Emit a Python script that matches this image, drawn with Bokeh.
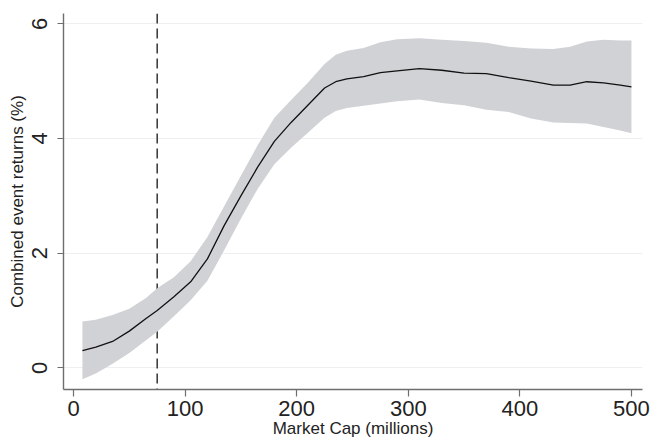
from bokeh.plotting import figure
from bokeh.models import Range1d, FixedTicker, Span
from bokeh.embed import file_html
from bokeh.resources import INLINE

# Market cap (millions)
market_cap = [8, 20, 35, 50, 65, 75, 90, 105, 120, 135, 150, 165, 180, 195, 210,
              225, 235, 245, 260, 275, 290, 310, 330, 350, 370, 390, 410, 430,
              445, 460, 475, 490, 500]
# Combined event returns (%) - point estimate
returns_mid = [0.30, 0.36, 0.46, 0.64, 0.86, 1.00, 1.24, 1.50, 1.90, 2.48, 3.00,
               3.50, 3.95, 4.28, 4.58, 4.88, 4.99, 5.04, 5.08, 5.15, 5.18, 5.22,
               5.19, 5.14, 5.13, 5.06, 5.00, 4.93, 4.93, 4.99, 4.97, 4.93, 4.90]
# Confidence band
returns_upper = [0.81, 0.84, 0.92, 1.03, 1.22, 1.39, 1.58, 1.86, 2.28, 2.82, 3.35,
                 3.88, 4.36, 4.67, 4.97, 5.30, 5.46, 5.53, 5.58, 5.68, 5.73, 5.75,
                 5.72, 5.70, 5.67, 5.60, 5.57, 5.56, 5.60, 5.69, 5.72, 5.71, 5.71]
returns_lower = [-0.20, -0.10, 0.07, 0.26, 0.48, 0.63, 0.90, 1.18, 1.52, 2.05, 2.60,
                 3.12, 3.55, 3.84, 4.10, 4.36, 4.48, 4.53, 4.57, 4.61, 4.65, 4.68,
                 4.62, 4.58, 4.50, 4.46, 4.35, 4.28, 4.27, 4.26, 4.20, 4.14, 4.09]

threshold = 75
x_ticks = [0, 100, 200, 300, 400, 500]
y_ticks = [0, 2, 4, 6]
x_label = "Market Cap (millions)"
y_label = "Combined event returns (%)"

FONT = "Liberation Sans"

p = figure(width=653, height=440, output_backend="svg", toolbar_location=None,
           x_range=Range1d(-8.96, 509.9), y_range=Range1d(-0.378, 6.18),
           min_border_left=63, min_border_right=11, min_border_top=13,
           min_border_bottom=51)
p.outline_line_color = None
p.background_fill_color = "white"
p.border_fill_color = "white"

p.xgrid.grid_line_color = None
p.ygrid.grid_line_color = "#efefef"
p.ygrid.grid_line_width = 1
p.ygrid.ticker = FixedTicker(ticks=y_ticks)

for ax in (p.xaxis[0], p.yaxis[0]):
    ax.axis_line_color = "#6e6e6e"
    ax.axis_line_width = 1.4
    ax.major_tick_line_color = "#6e6e6e"
    ax.major_tick_line_width = 1.2
    ax.major_tick_in = 0
    ax.minor_tick_line_color = None
    ax.major_label_text_font = FONT
    ax.major_label_text_font_size = "22px"
    ax.major_label_text_color = "#222222"
    ax.axis_label_text_font = FONT
    ax.axis_label_text_font_size = "17px"
    ax.axis_label_text_font_style = "normal"
    ax.axis_label_text_color = "#222222"

p.xaxis[0].ticker = FixedTicker(ticks=x_ticks)
p.xaxis[0].major_tick_out = 7
p.xaxis[0].major_label_standoff = 4
p.xaxis[0].axis_label = x_label
p.xaxis[0].axis_label_standoff = 0

p.yaxis[0].ticker = FixedTicker(ticks=y_ticks)
p.yaxis[0].major_tick_out = 6
p.yaxis[0].major_label_orientation = "vertical"
p.yaxis[0].major_label_standoff = 10
p.yaxis[0].axis_label = y_label
p.yaxis[0].axis_label_standoff = 3

vline = Span(location=threshold, dimension="height", line_color="#333333",
             line_width=1.5, line_dash="10 5", level="underlay")
p.add_layout(vline)

p.varea(x=market_cap, y1=returns_lower, y2=returns_upper, fill_color="#d1d2d5",
        fill_alpha=1.0)
p.line(x=market_cap, y=returns_mid, line_color="#111111", line_width=1.3)

open("out.html", "w").write(file_html(p, INLINE))
